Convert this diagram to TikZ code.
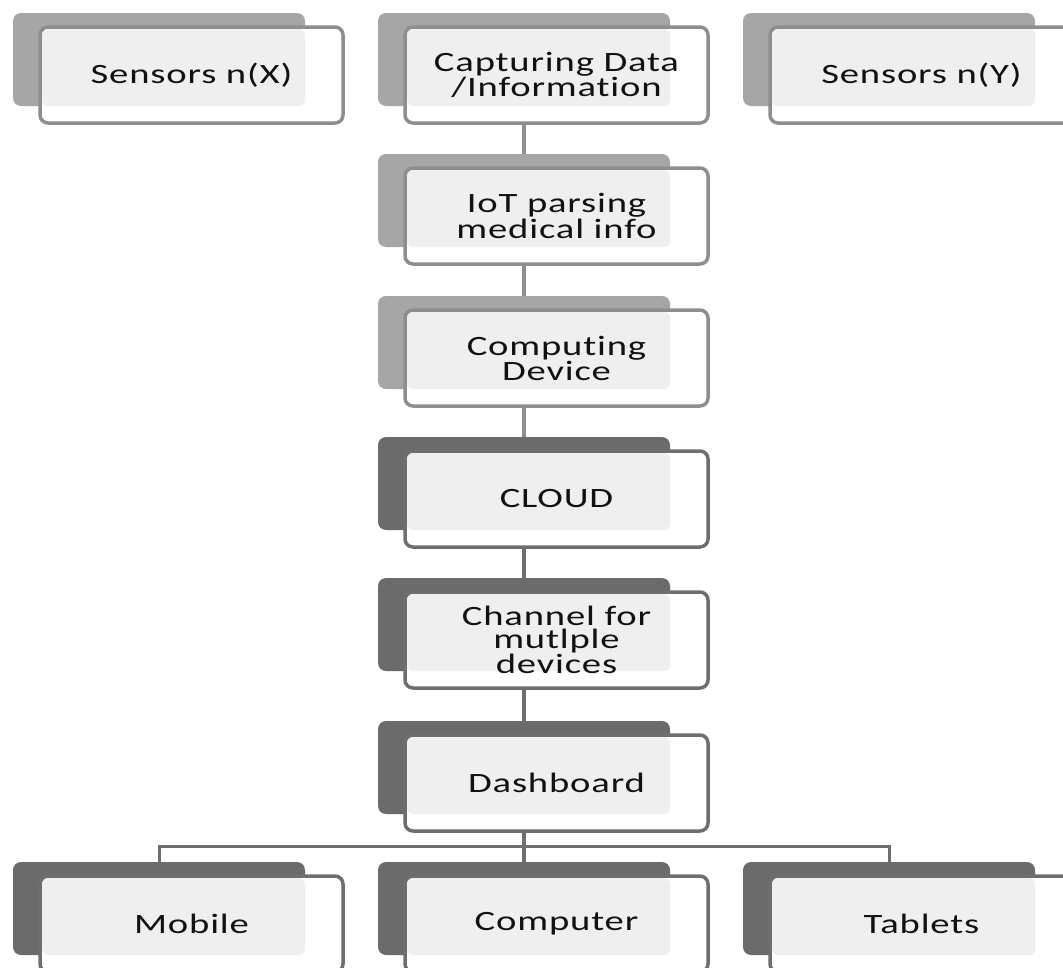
\documentclass[tikz,border=0pt]{standalone}
\usepackage{fontspec}
\setmainfont[FakeStretch=1.38, LetterSpace=3, Ligatures=NoCommon]{Carlito}
\definecolor{lback}{HTML}{A6A6A6}
\definecolor{lborder}{HTML}{8E8E8E}
\definecolor{dback}{HTML}{6B6B6B}
\definecolor{dborder}{HTML}{6E6E6E}
\definecolor{innerfill}{HTML}{EFEFEF}
\definecolor{txt}{HTML}{111111}
\pgfdeclarelayer{bg}
\pgfsetlayers{bg,main}
\tikzset{
  backbox/.style={minimum width=292pt, minimum height=93pt, inner sep=0pt, rounded corners=8pt, draw=none},
  frontbox/.style={minimum width=303pt, minimum height=96pt, inner sep=0pt, rounded corners=8pt, line width=3.5pt, align=center, text=txt, font=\fontsize{28}{22.5}\selectfont},
  conn/.style={line width=4pt},
  busline/.style={line width=3pt, draw=dborder},
}
% #1 name, #2 back-left x, #3 back-top y, #4 back colour, #5 border colour, #6 text
\newcommand\stackcell[6]{%
  \node[backbox, fill=#4] (#1b) at (#2+146,#3+46.5) {};
  \fill[white, rounded corners=8pt] (#2+27,#3+14) rectangle ++(303,96);
  \fill[innerfill, rounded corners=6pt] (#2+29,#3+16) rectangle (#2+292,#3+93);
  \node[frontbox, draw=#5] (#1) at (#2+178.5,#3+62) {#6};
}
\begin{document}
\begin{tikzpicture}[x=1pt,y=-1pt]
\useasboundingbox (0,0) rectangle (1063,967);
\clip (0,0) rectangle (1063,967);
\stackcell{sx}{13}{13}{lback}{lborder}{Sensors n(X)}
\stackcell{cap}{378}{13}{lback}{lborder}{Capturing Data\\/Information}
\stackcell{sy}{743}{13}{lback}{lborder}{Sensors n(Y)}
\stackcell{iot}{378}{154}{lback}{lborder}{IoT parsing\\medical info}
\stackcell{cdev}{378}{296}{lback}{lborder}{Computing\\Device}
\stackcell{cloud}{378}{437}{dback}{dborder}{CLOUD}
\stackcell{chan}{378}{578}{dback}{dborder}{Channel for\\mutlple\\devices}
\stackcell{dash}{378}{721}{dback}{dborder}{Dashboard}
\stackcell{mob}{13}{862}{dback}{dborder}{Mobile}
\stackcell{comp}{378}{862}{dback}{dborder}{Computer}
\stackcell{tab}{743}{862}{dback}{dborder}{Tablets}
\coordinate (bus) at (524,846);
\begin{pgfonlayer}{bg}
\draw[conn, draw=lborder] (capb.south) -- (iotb.north);
\draw[conn, draw=lborder] (iotb.south) -- (cdevb.north);
\draw[conn, draw=lborder] (cdevb.south) -- (cloudb.north);
\draw[conn, draw=dborder] (cloudb.south) -- (chanb.north);
\draw[conn, draw=dborder] (chanb.south) -- (dashb.north);
\draw[conn, draw=dborder] (dashb.south) -- (compb.north);
\draw[busline] (mobb.north) |- (bus) -| (tabb.north);
\end{pgfonlayer}
\end{tikzpicture}
\end{document}
